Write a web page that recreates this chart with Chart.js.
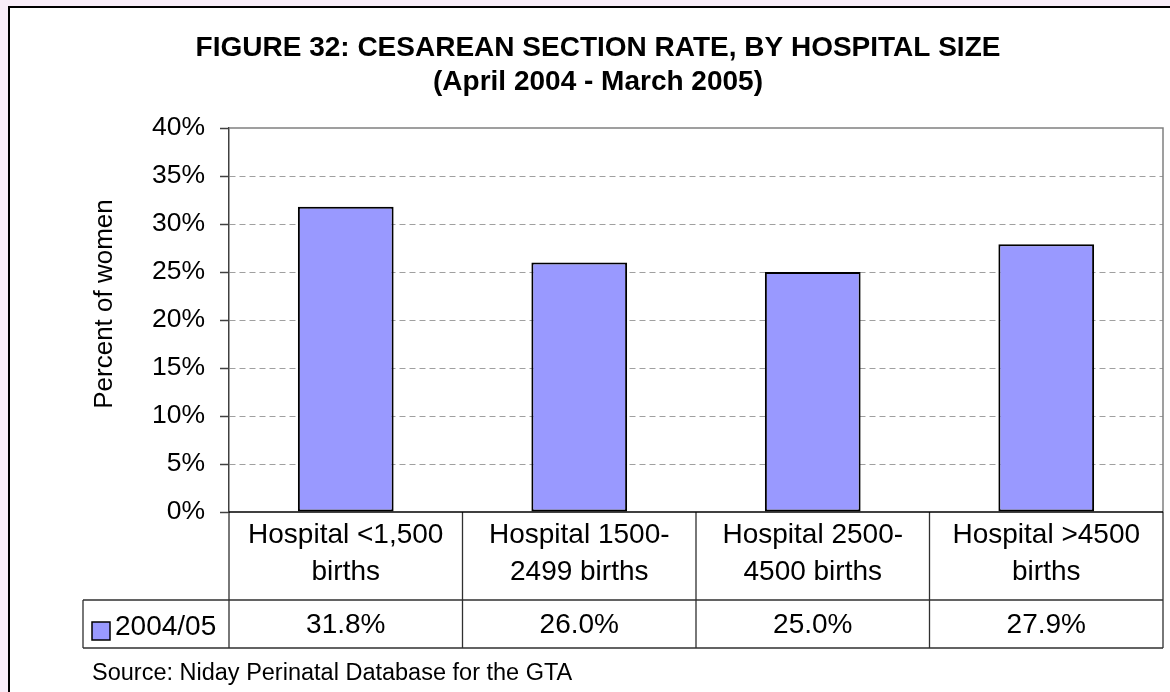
<!DOCTYPE html>
<html>
<head>
<meta charset="utf-8">
<title>Cesarean section rate, by hospital size</title>
<script src="https://cdn.jsdelivr.net/npm/chart.js@4.4.1/dist/chart.umd.min.js"></script>
<style>
    html, body { margin: 0; padding: 0; background: #f9eef9; }
    #wrap { width: 1170px; height: 692px; }
</style>
</head>
<body>
<div id="wrap"><canvas id="rateChart" width="1170" height="692"></canvas></div>
<script>
// Datos del gráfico
const categories = [
    ["Hospital <1,500", "births"],
    ["Hospital 1500-", "2499 births"],
    ["Hospital 2500-", "4500 births"],
    ["Hospital >4500", "births"]
];
const rates = [31.8, 26.0, 25.0, 27.9];
const valueLabels = ["31.8%", "26.0%", "25.0%", "27.9%"];
const seriesName = "2004/05";
const yMin = 0;
const yMax = 40;
const yStep = 5;

const titleLines = [
    "FIGURE 32: CESAREAN SECTION RATE, BY HOSPITAL SIZE",
    "(April 2004 - March 2005)"
];
const yTitle = "Percent of women";
const sourceNote = "Source: Niday Perinatal Database for the GTA";

const FONT = '"Liberation Sans", Arial, sans-serif';
const colors = {
    page: "#f9eef9",
    bar: "#9999ff",
    grid: "#a0a0a0",
    axis: "#404040",
    frame: "#808080"
};

// Fondo, marco, tabla de datos y notas
const tablePlugin = {
    id: "tablePlugin",
    beforeDraw(chart) {
        const ctx = chart.ctx;
        ctx.save();
        ctx.fillStyle = colors.page;
        ctx.fillRect(0, 0, chart.width, chart.height);
        ctx.fillStyle = "#ffffff";
        ctx.fillRect(9, 7, chart.width, chart.height);
        ctx.strokeStyle = "#000000";
        ctx.lineWidth = 2;
        ctx.strokeRect(9, 7, chart.width + 20, chart.height + 20);
        ctx.restore();
    },
    afterDraw(chart) {
        const ctx = chart.ctx;
        const area = chart.chartArea;
        const x = chart.scales.x;
        const n = categories.length;
        const colW = (area.right - area.left) / n;
        const rowTop = area.bottom;
        const rowMid = area.bottom + 88;
        const rowBot = area.bottom + 136;
        const legendLeft = 83;

        ctx.save();
        // marco del área de trazado
        ctx.strokeStyle = colors.frame;
        ctx.lineWidth = 1.5;
        ctx.beginPath();
        ctx.moveTo(area.left, area.top);
        ctx.lineTo(area.right, area.top);
        ctx.lineTo(area.right, area.bottom);
        ctx.stroke();

        // tabla
        ctx.strokeStyle = "#303030";
        ctx.lineWidth = 1.3;
        ctx.beginPath();
        for (let i = 0; i <= n; i++) {
            const px = area.left + i * colW;
            ctx.moveTo(px, rowTop);
            ctx.lineTo(px, rowBot);
        }
        ctx.moveTo(legendLeft, rowMid);
        ctx.lineTo(area.right, rowMid);
        ctx.moveTo(legendLeft, rowBot);
        ctx.lineTo(area.right, rowBot);
        ctx.moveTo(legendLeft, rowMid);
        ctx.lineTo(legendLeft, rowBot);
        ctx.stroke();

        // eje inferior
        ctx.strokeStyle = "#000000";
        ctx.lineWidth = 1.5;
        ctx.beginPath();
        ctx.moveTo(area.left, area.bottom);
        ctx.lineTo(area.right, area.bottom);
        ctx.stroke();

        ctx.fillStyle = "#000000";
        ctx.font = "28px " + FONT;
        ctx.textAlign = "center";
        ctx.textBaseline = "middle";
        categories.forEach((lines, i) => {
            const cx = x.getPixelForValue(i);
            ctx.fillText(lines[0], cx, rowTop + 23);
            ctx.fillText(lines[1], cx, rowTop + 60);
            ctx.fillText(valueLabels[i], cx, rowMid + 25);
        });

        // leyenda
        ctx.fillStyle = colors.bar;
        ctx.fillRect(92, 622, 18, 18);
        ctx.strokeStyle = "#000000";
        ctx.lineWidth = 1.5;
        ctx.strokeRect(92, 622, 18, 18);
        ctx.fillStyle = "#000000";
        ctx.textAlign = "left";
        ctx.fillText(seriesName, 115, rowMid + 27);

        // fuente
        ctx.font = "23.5px " + FONT;
        ctx.fillText(sourceNote, 92, 674);

        // título del eje Y
        ctx.translate(105, 304);
        ctx.rotate(-Math.PI / 2);
        ctx.font = "26px " + FONT;
        ctx.textAlign = "center";
        ctx.fillText(yTitle, 0, 0);
        ctx.restore();
    }
};

new Chart(document.getElementById("rateChart"), {
    type: "bar",
    data: {
        labels: categories,
        datasets: [{
            label: seriesName,
            data: rates,
            backgroundColor: colors.bar,
            borderColor: "#000000",
            borderWidth: 2,
            borderSkipped: false,
            barPercentage: 0.41,
            categoryPercentage: 1.0
        }]
    },
    options: {
        responsive: false,
        animation: false,
        layout: {
            padding: { top: 0, left: 33, right: 7, bottom: 180 }
        },
        plugins: {
            legend: { display: false },
            tooltip: { enabled: false },
            title: {
                display: true,
                text: titleLines,
                color: "#000000",
                font: { family: FONT, size: 28, weight: "bold", lineHeight: 34 / 28 },
                padding: { top: 31, bottom: 29 }
            }
        },
        scales: {
            x: {
                display: false
            },
            y: {
                min: yMin,
                max: yMax,
                afterFit(scale) {
                    scale.width = 196;
                },
                ticks: {
                    stepSize: yStep,
                    padding: 15,
                    color: "#000000",
                    font: { family: FONT, size: 26.5 },
                    callback: v => v + "%"
                },
                grid: {
                    color: c => (c.tick && (c.tick.value === yMin || c.tick.value === yMax)) ? "transparent" : colors.grid,
                    lineWidth: 1,
                    tickLength: 9,
                    tickColor: colors.axis,
                    tickWidth: 1.5,
                    borderDash: [6, 4]
                },
                border: {
                    display: true,
                    color: colors.axis,
                    width: 1.5,
                    dash: [6, 4]
                }
            }
        }
    },
    plugins: [tablePlugin]
});
</script>
</body>
</html>
